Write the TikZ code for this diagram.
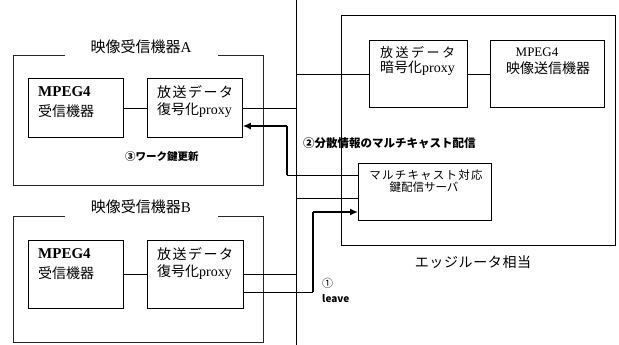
\documentclass[tikz,border=0pt]{standalone}
\usepackage{fontspec}
\setmainfont{Liberation Serif}
\newfontfamily\jp{Noto Sans CJK JP}
\usetikzlibrary{arrows.meta}
\newcommand{\fs}[1]{\fontsize{#1}{#1}\selectfont}
\begin{document}
\begin{tikzpicture}[x=1pt,y=-1pt,
  box/.style={draw,line width=0.8pt,anchor=north west,inner sep=0pt},
  grp/.style={draw,line width=0.6pt,black!85},
  txt/.style={inner sep=0pt,anchor=west},
  ctxt/.style={inner sep=0pt},
  wire/.style={line width=0.7pt},
  bus/.style={line width=0.9pt},
  thk/.style={line width=1.1pt},
  sig/.style={line width=1.5pt,-{Latex[length=8pt,width=7pt]}},
]
\useasboundingbox (0,0) rectangle (619,345);

% boxes
\node[box,minimum width=95pt,minimum height=59pt] (mA) at (28,78) {};
\node[box,minimum width=95pt,minimum height=59pt] (pA) at (147,78) {};
\node[box,minimum width=95pt,minimum height=68pt] (mB) at (28,240) {};
\node[box,minimum width=96pt,minimum height=68pt] (pB) at (147,240) {};
\node[box,minimum width=98pt,minimum height=67pt] (enc) at (369,40) {};
\node[box,minimum width=114pt,minimum height=67pt] (snd) at (490,40) {};
\node[box,minimum width=133pt,minimum height=57pt] (srv) at (358,163) {};
\node[box,minimum width=274pt,minimum height=230pt] (edge) at (341,15) {};

% group frames
\draw[grp] (65,55) -- (13,55) -- (13,185) -- (263,185) -- (263,55) -- (218,55);
\draw[grp] (65,216) -- (13,216) -- (13,342) -- (263,342) -- (263,216) -- (218,216);
\node[ctxt] (tA) at (141,47) {\fs{15}{\jp 映像受信機器}A};
\node[ctxt] (tB) at (141,207) {\fs{15}{\jp 映像受信機器}B};

% bus
\coordinate (bt) at (296,0);
\coordinate (bb) at (296,345);
\draw[bus] (bt) -- (bb);

% connections
\draw[wire] (mA) -- (pA);
\draw[wire] (pA.east) -- (pA.east -| bt);
\draw[wire] (enc.west -| bt) -- (enc.west);
\draw[wire] (enc) -- (snd);
\coordinate (k1) at (287,175);
\coordinate (k2) at (287,126);
\draw[wire] (srv.west |- k1) -- (k1);
\draw[thk] (k1) -- (k2);
\draw[sig] (k2) -- (pA.east |- k2);
\coordinate (j1) at (296,198);
\draw[wire] (j1) -- (srv.west |- j1);
\draw[wire] (mB) -- (pB);
\draw[wire] (pB.east) -- (pB.east -| bt);
\coordinate (l1) at (313,292);
\coordinate (l2) at (313,212);
\draw[wire] (pB.east |- l1) -- (l1);
\draw[thk] (l1) -- (l2);
\draw[sig] (l2) -- (srv.west |- l2);

% box texts
\node[txt] (mA1) at (38,92) {\fs{15}\textbf{MPEG4}};
\node[txt] (mA2) at (38,111) {\fs{14}\jp 受信機器};
\node[txt] (pA1) at (157,92) {\fs{14}\jp 放\hspace{1.5pt}送\hspace{1.5pt}デ\hspace{1.5pt}ー\hspace{1.5pt}タ};
\node[txt] (pA2) at (157,110) {\fs{14}{\jp 復号化}proxy};
\node[txt] (mB1) at (38,254) {\fs{15}\textbf{MPEG4}};
\node[txt] (mB2) at (38,273) {\fs{14}\jp 受信機器};
\node[txt] (pB1) at (157,254) {\fs{14}\jp 放\hspace{1.5pt}送\hspace{1.5pt}デ\hspace{1.5pt}ー\hspace{1.5pt}タ};
\node[txt] (pB2) at (157,272) {\fs{14}{\jp 復号化}proxy};
\node[txt] (e1) at (380,52) {\fs{13}\jp 放\hspace{2.5pt}送\hspace{2.5pt}デ\hspace{2.5pt}ー\hspace{2.5pt}タ};
\node[txt] (e2) at (380,68) {\fs{14}{\jp 暗号化}proxy};
\node[ctxt] (s1) at (537,52) {\fs{13}MPEG4};
\node[ctxt] (s2) at (548,68) {\fs{14}\jp 映像送信機器};
\node[ctxt] (v1) at (426,175) {\fs{11.5}\jp マ\hspace{1.2pt}ル\hspace{1.2pt}チ\hspace{1.2pt}キ\hspace{1.2pt}ャ\hspace{1.2pt}ス\hspace{1.2pt}ト\hspace{1.2pt}対\hspace{1.2pt}応};
\node[ctxt] (v2) at (424,187) {\fs{11.5}\jp 鍵配信サーバ};

% labels
\node[txt] (L2) at (303,143) {\fs{11.5}\jp\bfseries ②分散情報のマルチキャスト配信};
\node[txt] (L3) at (125,157) {\fs{10.5}\jp\bfseries ③ワーク鍵更新};
\node[txt] (L1) at (322,283) {\fs{11}\jp ①};
\node[txt] (L1b) at (322,299) {\fs{10}\jp\bfseries leave};
\node[ctxt] (Le) at (473,262) {\fs{14}\jp エ\hspace{0.6pt}ッ\hspace{0.6pt}ジ\hspace{0.6pt}ル\hspace{0.6pt}ー\hspace{0.6pt}タ\hspace{0.6pt}相\hspace{0.6pt}当};
\end{tikzpicture}
\end{document}
